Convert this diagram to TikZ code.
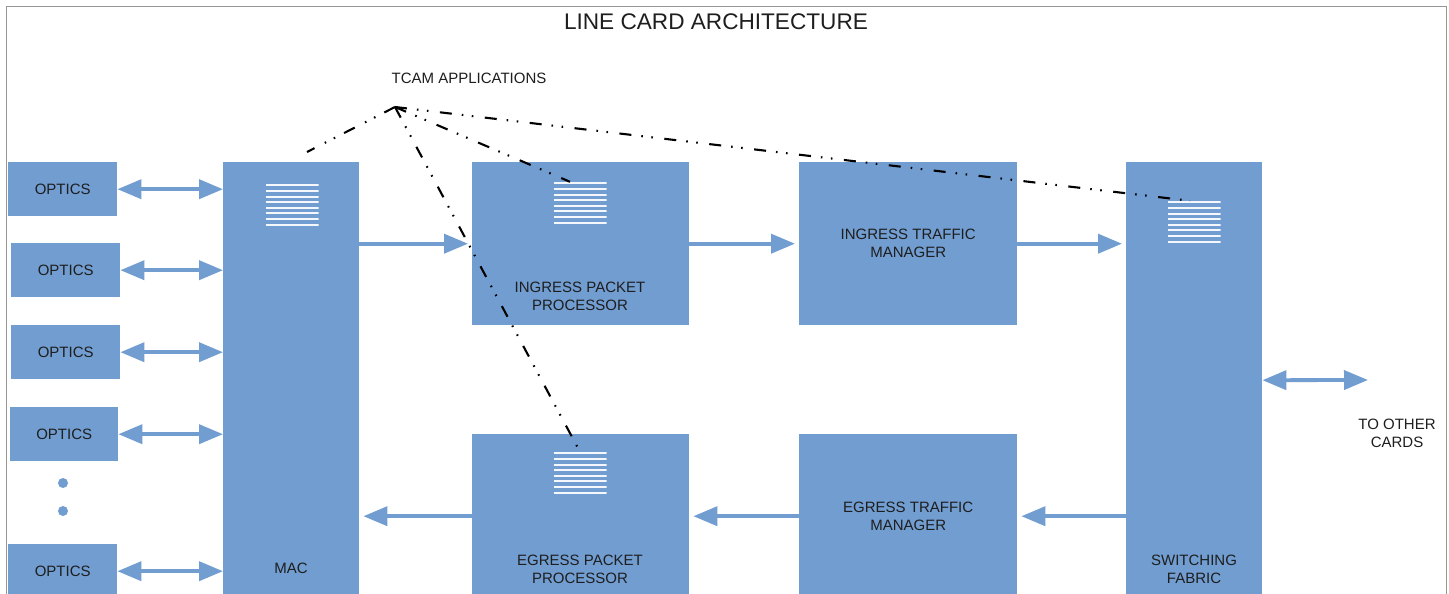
\documentclass[tikz,border=0pt]{standalone}
\usepackage{fontspec}
\setmainfont{Liberation Sans}
\usepackage{tikz}
\usetikzlibrary{arrows,arrows.meta,calc,positioning}
\definecolor{cardblue}{RGB}{113,157,209}
\definecolor{cardtext}{RGB}{30,30,30}
\definecolor{framegray}{RGB}{150,150,150}
\tikzset{
  txt/.style={text=cardtext, font=\fontsize{15}{18}\selectfont, align=center, inner sep=0pt},
  block/.style={txt, fill=cardblue, anchor=north west},
  tcam/.style={minimum width=53, minimum height=42, inner sep=0pt,
    path picture={\foreach \k in {0,...,7}
      \draw[white!92!cardblue, line width=2pt]
        ([yshift=-1.4pt-\k*5.6pt]path picture bounding box.north west) --
        ([yshift=-1.4pt-\k*5.6pt]path picture bounding box.north east);}},
  flow/.style={draw=cardblue, line width=3.8pt, shorten >=4pt, -{Triangle[length=24pt,width=19pt]}},
  dflow/.style={draw=cardblue, line width=3.8pt, {Triangle[length=24pt,width=19pt]}-{Triangle[length=24pt,width=19pt]}},
  tcamlink/.style={line width=2.1pt, dash pattern=on 12pt off 10pt on 1.6pt off 8.5pt on 1.6pt off 11.5pt}
}
\begin{document}
\begin{tikzpicture}[x=1pt,y=-1pt]
\clip (0,0) rectangle (1449,594);
\fill[white] (0,0) rectangle (1449,594);
\draw[framegray, line width=1.2pt] (6.5,620) |- (1446.5,6.5) -- (1446.5,620);

\node[txt, font=\fontsize{22.6}{27}\selectfont] (title) at (716,22) {LINE CARD ARCHITECTURE};
\node[txt] (tcamlbl) at (469,78) {TCAM APPLICATIONS};
\coordinate (apex) at (395,107);
\coordinate (macend) at (307,152);

% optics column
\node[block, minimum width=109, minimum height=54] (opt1) at (8,162) {OPTICS};
\node[block, minimum width=109, minimum height=54] (opt2) at (11,243) {OPTICS};
\node[block, minimum width=109, minimum height=54] (opt3) at (11,325) {OPTICS};
\node[block, minimum width=108, minimum height=54] (opt4) at (10,407) {OPTICS};
\node[block, minimum width=109, minimum height=54] (opt5) at (8,544) {OPTICS};
\fill[cardblue] (63,483) circle (5) (63,511) circle (5);

% main blocks
\node[block, minimum width=136, minimum height=436] (mac) at (223,162) {};
\node[block, minimum width=217, minimum height=163] (ipp) at (472,162) {};
\node[block, minimum width=218, minimum height=163] (itm) at (799,162) {INGRESS TRAFFIC\\MANAGER};
\node[block, minimum width=136, minimum height=436] (sfab) at (1126,162) {};
\node[block, minimum width=217, minimum height=164] (epp) at (472,434) {};
\node[block, minimum width=218, minimum height=164] (etm) at (799,434) {EGRESS TRAFFIC\\MANAGER};

\node[txt] (maclbl) at (291,568) {MAC};
\node[txt] (ipplbl) at (580,296) {INGRESS PACKET\\PROCESSOR};
\node[txt] (epplbl) at (580,569) {EGRESS PACKET\\PROCESSOR};
\node[txt] (sflbl) at (1194,569) {SWITCHING\\FABRIC};
\node[txt] (others) at (1397,433) {TO OTHER\\CARDS};
\coordinate (otherend) at (1368,380);

% tcam tables
\node[tcam] (mactab) at (292,205) {};
\node[tcam] (ipptab) at (580,203) {};
\node[tcam] (sftab) at (1194,222) {};
\node[tcam] (epptab) at (580,473) {};

% data path
\foreach \i in {1,...,5}
  \draw[dflow] (opt\i.east) -- (opt\i.east -| mac.west);
\draw[flow] (mac.east |- ipp.west) -- (ipp.west);
\draw[flow] (ipp.east) -- (itm.west);
\draw[flow] (itm.east) -- (itm.east -| sfab.west);
\draw[flow] (sfab.west |- etm.east) -- (etm.east);
\draw[flow] (etm.west) -- (epp.east);
\draw[flow] (epp.west) -- (epp.west -| mac.east);
\draw[dflow] (sfab.east) -- (otherend);

% tcam links
\draw[tcamlink] (apex) -- (macend);
\draw[tcamlink] (apex) -- ([xshift=-10pt]ipptab.north);
\draw[tcamlink] (apex) -- ([xshift=-4pt]sftab.north);
\draw[tcamlink] (apex) -- (epptab.north);
\end{tikzpicture}
\end{document}
